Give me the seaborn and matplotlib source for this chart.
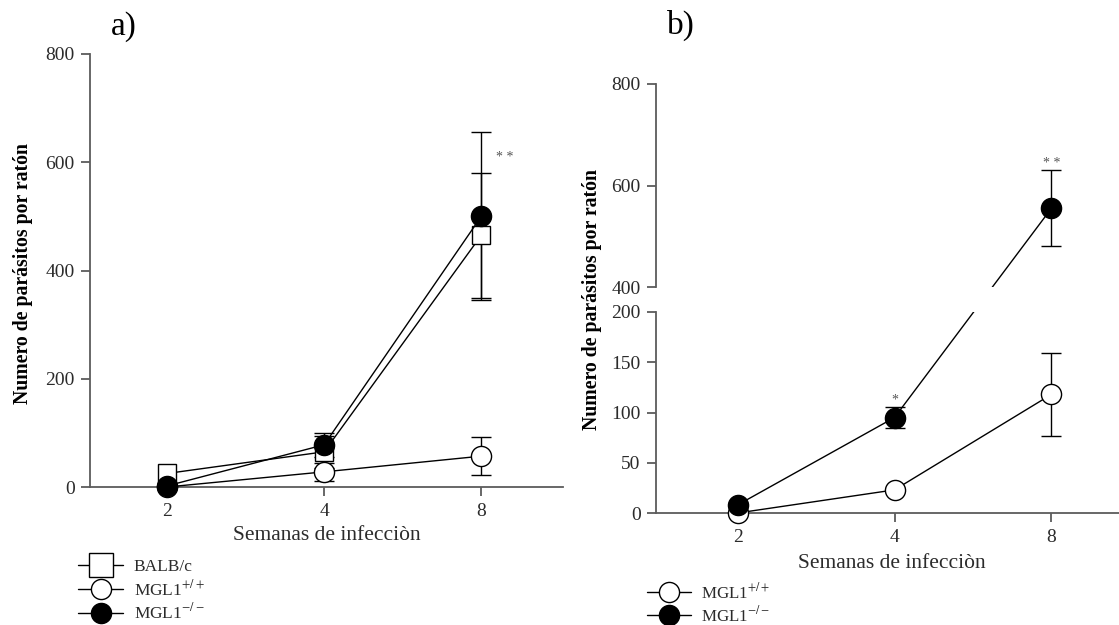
import numpy as np
import matplotlib
matplotlib.use("Agg")
import matplotlib.pyplot as plt
import seaborn as sns
from matplotlib.lines import Line2D

# ---------------- data ----------------
weeks = ["2", "4", "8"]
a_balb = [25, 65, 465]
a_balb_err = [0, 30, 115]
a_wt = [0, 28, 57]
a_wt_err = [0, 17, 35]
a_ko = [2, 78, 500]
a_ko_err = [0, 22, 155]
b_wt = [0, 23, 118]
b_wt_err = [0, 0, 41]
b_ko = [8, 95, 555]
b_ko_err = [0, 10, 75]
labels_a = ["BALB/c", "MGL1$^{+/+}$", "MGL1$^{-/-}$"]
labels_b = ["MGL1$^{+/+}$", "MGL1$^{-/-}$"]
ylabel = "Numero de parásitos por ratón"
xlabel = "Semanas de infecciòn"
yticks_a = [0, 200, 400, 600, 800]
yticks_b_low = [0, 50, 100, 150, 200]
yticks_b_up = [400, 600, 800]

# ---------------- style ----------------
sns.set_theme(style="ticks")
plt.rcParams["font.family"] = ["Liberation Serif", "DejaVu Serif"]
plt.rcParams["mathtext.fontset"] = "stix"

SPINE = "#5c5c5c"
TXT = "#2b2b2b"
W, H = 1119, 625
fig = plt.figure(figsize=(W / 100, H / 100), dpi=100)


def px(l, b, r, t):
    return [l / W, 1 - b / H, (r - l) / W, (b - t) / H]


axA = fig.add_axes(px(90, 487, 563, 54))
axBl = fig.add_axes(px(656, 513, 1133, 312))
axBu = fig.add_axes(px(656, 287, 1133, 84))

styles = {
    "balb": dict(marker="s", markersize=13.5, markerfacecolor="white"),
    "wt": dict(marker="o", markersize=14.5, markerfacecolor="white"),
    "ko": dict(marker="o", markersize=14.5, markerfacecolor="black"),
}


def series(ax, x, y, style, order=weeks):
    st = styles[style]
    sns.pointplot(x=x, y=y, order=order, ax=ax, color="black", errorbar=None,
                  markers=st["marker"], linestyles="-", linewidth=1.0,
                  markersize=st["markersize"], markerfacecolor=st["markerfacecolor"],
                  markeredgecolor="black", markeredgewidth=1.0, clip_on=False, zorder=3)


def ebars(ax, y, err, idx=None):
    idx = [i for i in range(len(weeks)) if err[i] > 0] if idx is None else idx
    ax.errorbar([i for i in idx], [y[i] for i in idx], yerr=[err[i] for i in idx],
                fmt="none", ecolor="black", elinewidth=1.0, capsize=7.5,
                capthick=1.0, zorder=2, clip_on=False)


# ---------------- panel a ----------------
ebars(axA, a_balb, a_balb_err)
ebars(axA, a_wt, a_wt_err)
ebars(axA, a_ko, a_ko_err)
series(axA, weeks, a_balb, "balb")
series(axA, weeks, a_wt, "wt")
series(axA, weeks, a_ko, "ko")
axA.set_ylim(0, 800)
axA.set_yticks(yticks_a)
axA.set_xlim(-0.49, 2.52)
axA.text(2.15, 608, "* *", fontsize=10, color="#555555", ha="center", va="center")

# ---------------- panel b ----------------
ebars(axBl, b_wt, b_wt_err)
ebars(axBl, b_ko, b_ko_err, idx=[1])
series(axBl, weeks, b_wt, "wt")
series(axBl, weeks[:2], b_ko[:2], "ko")
ebars(axBu, b_ko, b_ko_err, idx=[2])
series(axBu, weeks[2:], b_ko[2:], "ko")
for ax in (axBl, axBu):
    ax.set_xlim(-0.52, 2.52)
axBl.set_ylim(0, 200)
axBl.set_yticks(yticks_b_low)
axBu.set_ylim(400, 800)
axBu.set_yticks(yticks_b_up)

# segment week 4 -> week 8 across the axis break: straight on screen,
# clipped to each part of the broken axis
p_start = axBl.transData.transform((weeks.index("4"), b_ko[1]))
p_end = axBu.transData.transform((weeks.index("8"), b_ko[2]))
for ax in (axBl, axBu):
    q = ax.transData.inverted().transform(np.array([p_start, p_end]))
    ax.plot(q[:, 0], q[:, 1], color="black", lw=1.0, zorder=1, clip_on=True)

axBl.text(1, 112, "*", fontsize=10, color="#555555", ha="center", va="center")
axBu.text(2, 644, "* *", fontsize=10, color="#555555", ha="center", va="center")

# ---------------- axes styling ----------------
for ax in (axA, axBl, axBu):
    sns.despine(ax=ax)
    ax.set_xlabel("")
    ax.set_ylabel("")
    for s in ("left", "bottom"):
        ax.spines[s].set_color(SPINE)
        ax.spines[s].set_linewidth(1.3)
    ax.tick_params(axis="both", direction="out", length=6.5, width=1.3, color=SPINE,
                   labelsize=14, labelcolor=TXT)
    ax.tick_params(axis="y", pad=4.5)
    ax.tick_params(axis="x", pad=5)
    ax.set_facecolor("none")
axBu.spines["bottom"].set_visible(False)
axBu.tick_params(axis="x", bottom=False, labelbottom=False)

# ---------------- labels ----------------
fig.text(23 / W, 1 - 273 / H, ylabel, rotation=90, ha="center", va="center",
         fontsize=14.2, fontweight="bold", color="black")
fig.text(592 / W, 1 - 300 / H, ylabel, rotation=90, ha="center", va="center",
         fontsize=14.2, fontweight="bold", color="black")
fig.text(327 / W, 1 - 535 / H, xlabel, ha="center", va="center", fontsize=15.5, color=TXT)
fig.text(892 / W, 1 - 563 / H, xlabel, ha="center", va="center", fontsize=15.5, color=TXT)
fig.text(124 / W, 1 - 27 / H, "a)", ha="center", va="center", fontsize=24, color="black")
fig.text(681 / W, 1 - 25 / H, "b)", ha="center", va="center", fontsize=24, color="black")

# ---------------- legends ----------------
def handle(style, size_scale=1.0):
    st = styles[style]
    return Line2D([], [], color="black", lw=1.0, marker=st["marker"],
                  markersize=st["markersize"] * size_scale,
                  markerfacecolor=st["markerfacecolor"], markeredgecolor="black",
                  markeredgewidth=1.0)


legA = fig.legend([handle("balb", 1.3), handle("wt"), handle("ko")], labels_a,
                  loc="upper left", bbox_to_anchor=(78 / W, 1 - 559 / H),
                  frameon=False, fontsize=12.5, handlelength=2.6, handletextpad=0.6,
                  labelspacing=0.22, borderpad=0, borderaxespad=0)
legB = fig.legend([handle("wt"), handle("ko")], labels_b,
                  loc="upper left", bbox_to_anchor=(647 / W, 1 - 582 / H),
                  frameon=False, fontsize=12.2, handlelength=2.6, handletextpad=0.6,
                  labelspacing=0.2, borderpad=0, borderaxespad=0)
for leg in (legA, legB):
    for t in leg.get_texts():
        t.set_color(TXT)

fig.savefig("out.png", dpi=100, facecolor="white")
